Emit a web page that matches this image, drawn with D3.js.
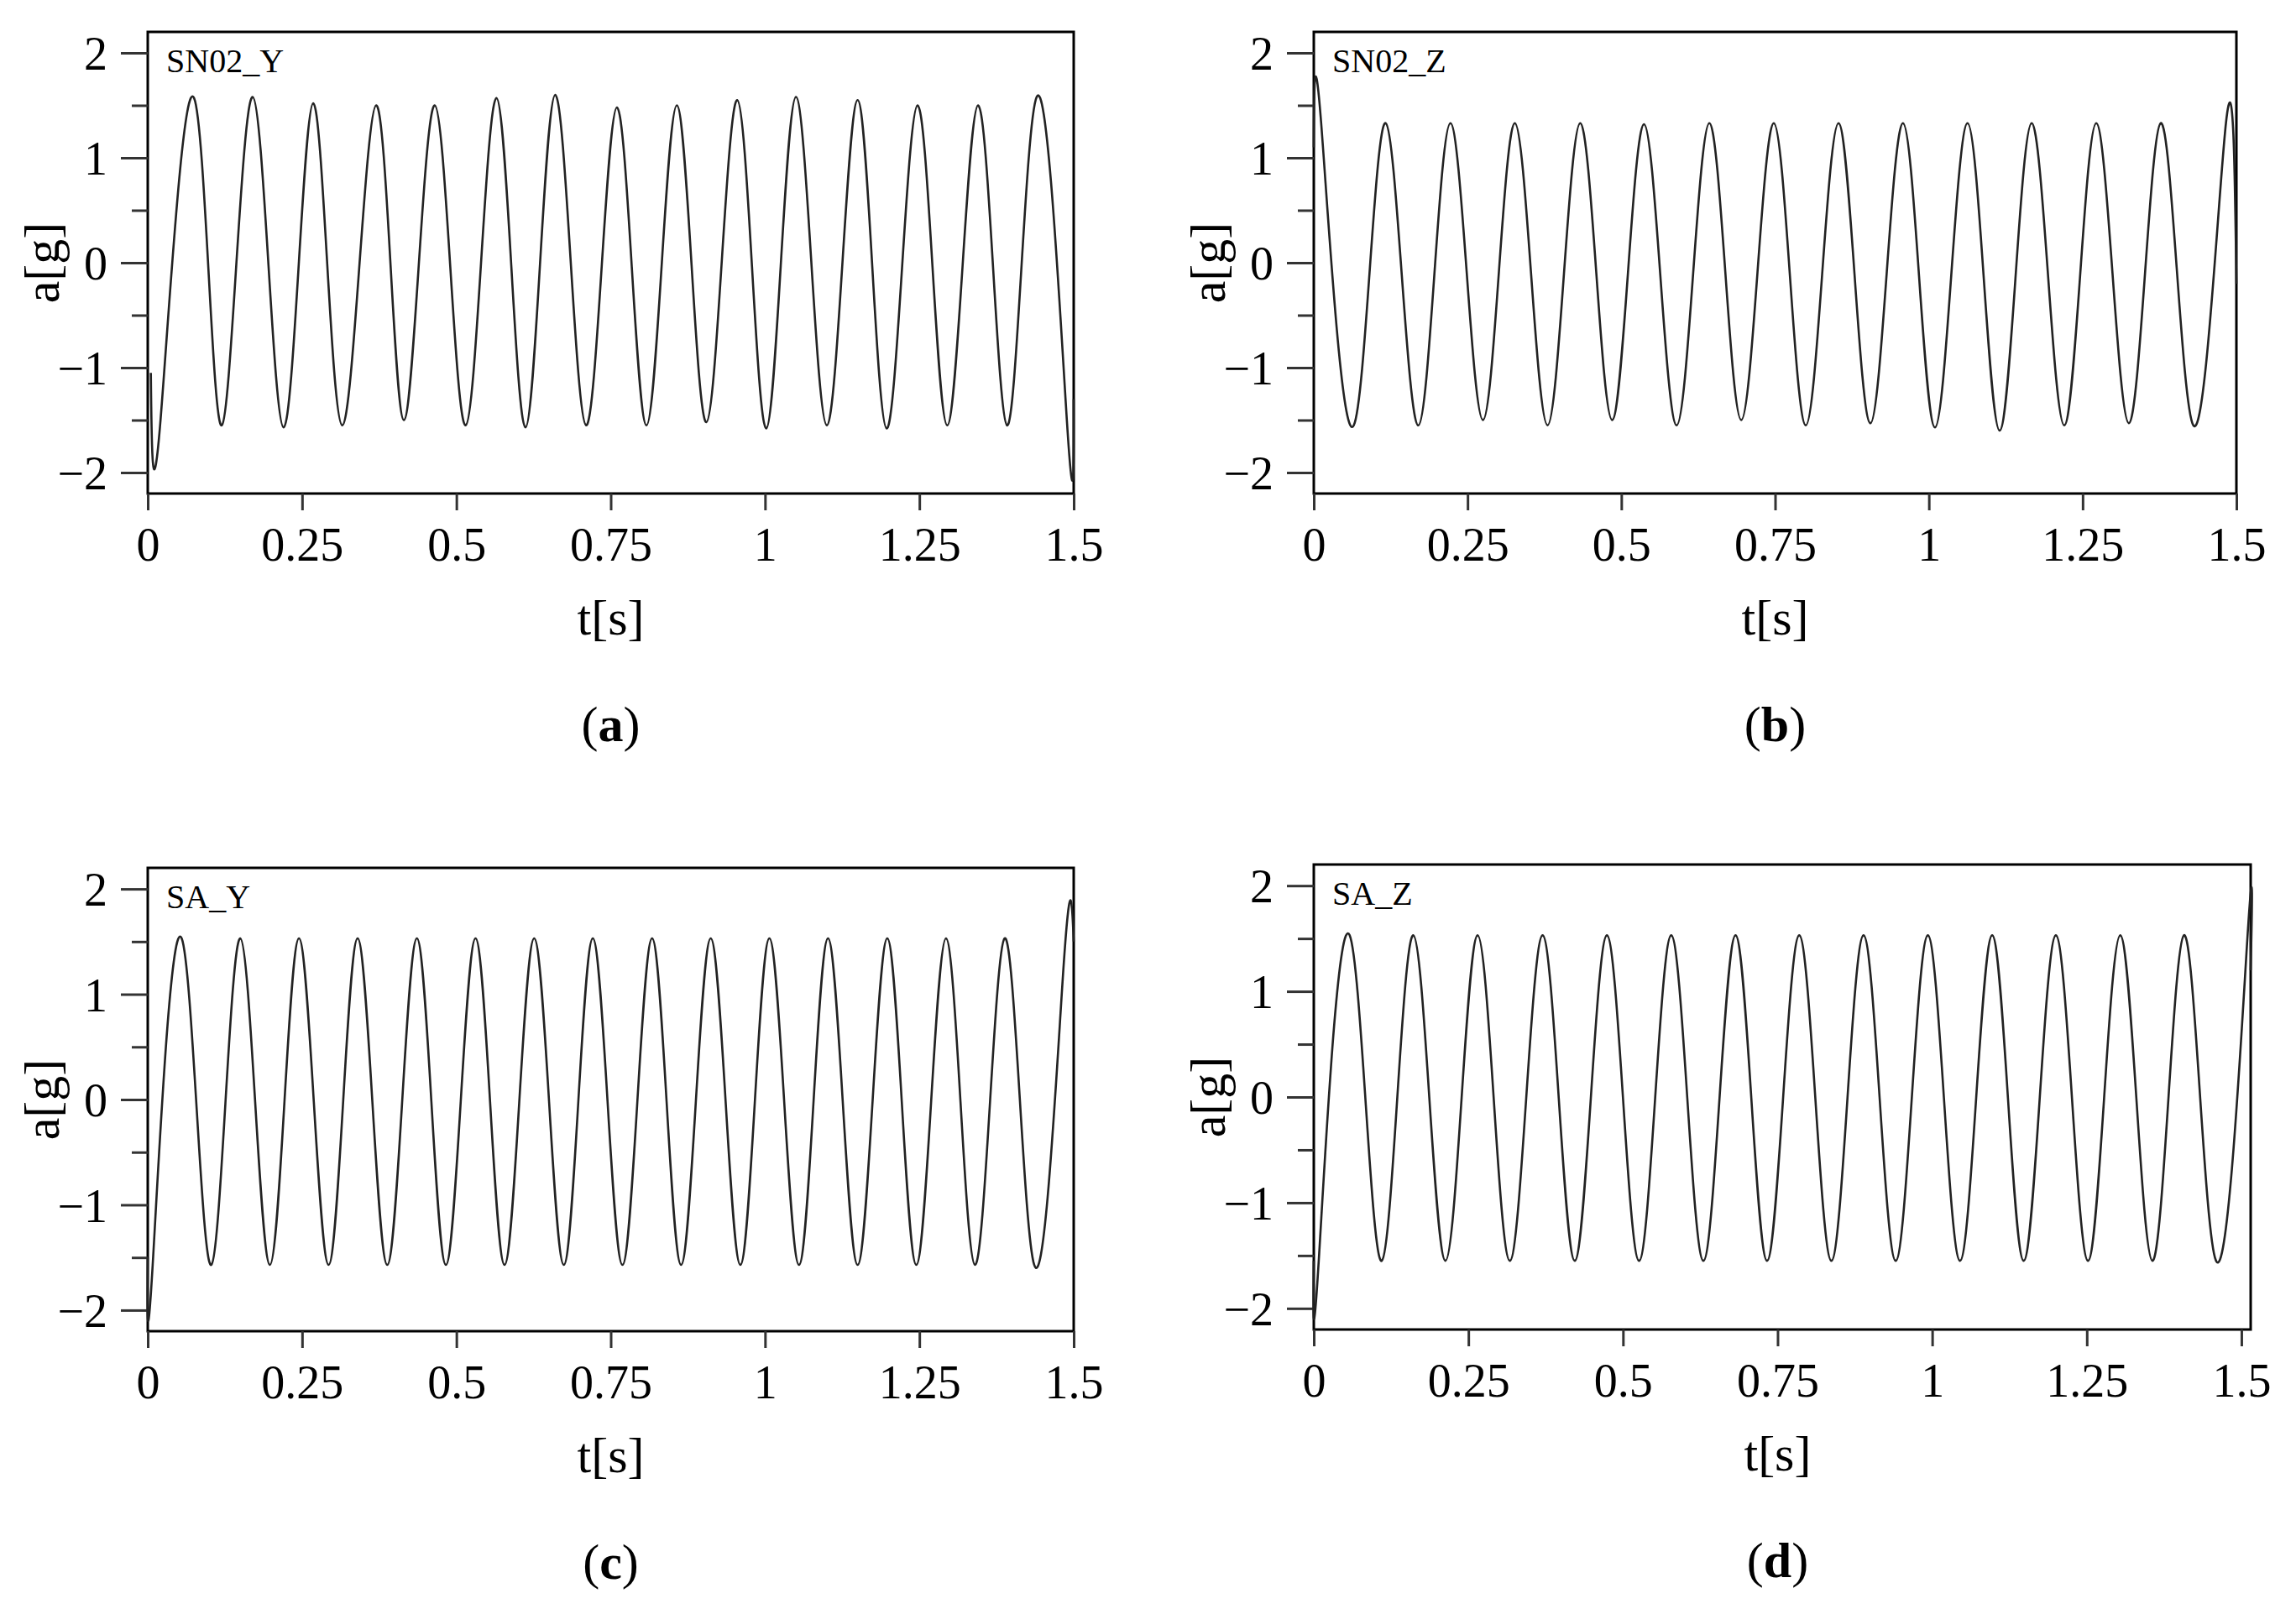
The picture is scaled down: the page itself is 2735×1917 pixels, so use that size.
<!DOCTYPE html>
<html><head><meta charset="utf-8">
<script src="https://cdn.jsdelivr.net/npm/d3@7"></script>
<style>body{margin:0;background:#fff}svg{font-family:"Liberation Serif","Times New Roman",serif}</style>
</head><body><svg id="c" width="2735" height="1917"></svg>
<script>
// extrema: [t (s), a (g)]
const seriesSN02Y = [[0.005,-1.05],[0.02,-1.55],[0.075,1.57],[0.12,-1.55],[0.17,1.58],[0.22,-1.57],[0.268,1.52],[0.315,-1.55],[0.37,1.5],[0.415,-1.5],[0.465,1.5],[0.515,-1.55],[0.565,1.57],[0.612,-1.57],[0.66,1.6],[0.71,-1.55],[0.76,1.48],[0.808,-1.55],[0.857,1.5],[0.905,-1.52],[0.955,1.55],[1.002,-1.58],[1.05,1.58],[1.1,-1.55],[1.15,1.55],[1.197,-1.58],[1.247,1.5],[1.295,-1.55],[1.345,1.5],[1.392,-1.55],[1.44,1.58],[1.49,-1.6],[1.5,-1.3]];
const seriesSN02Z = [[0,1.1],[0.012,1.33],[0.065,-1.55],[0.117,1.33],[0.17,-1.55],[0.222,1.33],[0.275,-1.5],[0.327,1.33],[0.38,-1.55],[0.433,1.33],[0.485,-1.5],[0.537,1.32],[0.59,-1.55],[0.643,1.33],[0.695,-1.5],[0.748,1.33],[0.8,-1.55],[0.853,1.33],[0.905,-1.53],[0.958,1.33],[1.01,-1.57],[1.063,1.33],[1.115,-1.6],[1.167,1.33],[1.22,-1.55],[1.272,1.33],[1.325,-1.53],[1.377,1.33],[1.43,-1.55],[1.483,1.33],[1.5,-0.2]];
const seriesSAY = [[0,-1.5],[0.008,-1.57],[0.055,1.53],[0.103,-1.57],[0.15,1.53],[0.198,-1.57],[0.245,1.53],[0.293,-1.57],[0.34,1.53],[0.388,-1.57],[0.436,1.53],[0.483,-1.57],[0.531,1.53],[0.578,-1.57],[0.626,1.53],[0.674,-1.57],[0.721,1.53],[0.769,-1.57],[0.817,1.53],[0.864,-1.57],[0.912,1.53],[0.96,-1.57],[1.007,1.53],[1.055,-1.57],[1.102,1.53],[1.15,-1.57],[1.198,1.53],[1.245,-1.57],[1.293,1.53],[1.34,-1.57],[1.388,1.53],[1.436,-1.57],[1.484,1.3],[1.5,1.5]];
const seriesSAZ = [[0,-1.55],[0.008,-1.55],[0.058,1.53],[0.11,-1.55],[0.161,1.53],[0.213,-1.55],[0.265,1.53],[0.317,-1.55],[0.37,1.53],[0.422,-1.55],[0.474,1.53],[0.526,-1.55],[0.578,1.53],[0.63,-1.55],[0.682,1.53],[0.733,-1.55],[0.785,1.53],[0.837,-1.55],[0.889,1.53],[0.941,-1.55],[0.993,1.53],[1.045,-1.55],[1.097,1.53],[1.148,-1.55],[1.2,1.53],[1.252,-1.55],[1.304,1.53],[1.356,-1.55],[1.407,1.53],[1.459,-1.55],[1.51,1.53],[1.515,1.2]];
const panelNames = ["SN02_Y","SN02_Z","SA_Y","SA_Z"];
const captions = ["a","b","c","d"];
const xTicks = [0,0.25,0.5,0.75,1,1.25,1.5];
const yTicks = [-2,-1,0,1,2];
const yMinor = [-1.5,-0.5,0.5,1.5];

const svg = d3.select("#c");
const panels = [
  {data:seriesSN02Y,l:176,r:1279,t:38,b:588,xmax:1.5},
  {data:seriesSN02Z,l:1565,r:2664,t:38,b:588,xmax:1.5},
  {data:seriesSAY,l:176,r:1279,t:1034,b:1586,xmax:1.5},
  {data:seriesSAZ,l:1565,r:2681,t:1030,b:1584,xmax:1.515}
];
panels.forEach((p,i)=>{
  const x = d3.scaleLinear().domain([0,p.xmax]).range([p.l,p.r]);
  const y = d3.scaleLinear().domain([-2.2,2.2]).range([p.b,p.t]);
  const g = svg.append("g");
  g.append("rect").attr("x",p.l).attr("y",p.t).attr("width",p.r-p.l).attr("height",p.b-p.t)
    .attr("fill","none").attr("stroke","#000").attr("stroke-width",3);
  const ya = g.append("g").attr("transform",`translate(${p.l},0)`)
    .call(d3.axisLeft(y).tickValues(yTicks).tickSize(32).tickPadding(12).tickFormat(d3.format("d")));
  g.append("g").attr("transform",`translate(${p.l},0)`)
    .call(d3.axisLeft(y).tickValues(yMinor).tickSize(19).tickFormat(""));
  const xa = g.append("g").attr("transform",`translate(0,${p.b})`)
    .call(d3.axisBottom(x).tickValues(xTicks).tickSize(20).tickPadding(18).tickFormat(d=>String(d)));
  g.selectAll(".domain").remove();
  g.selectAll(".tick line").attr("stroke","#333").attr("stroke-width",3);
  g.selectAll(".tick text").attr("font-size",56).attr("fill","#000").attr("font-family","Liberation Serif");
  ya.selectAll(".tick text").attr("dy","0.35em").attr("dx","-4");
  xa.selectAll(".tick text").attr("dy","0.75em");
  g.append("path").datum(p.data).attr("fill","none").attr("stroke","#222").attr("stroke-width",2.6)
    .attr("d",d3.line().x(d=>x(d[0])).y(d=>y(d[1])).curve(d3.curveNatural));
  g.append("text").attr("x",p.l+22).attr("y",p.t+48).attr("font-size",40).text(panelNames[i]);
  const cx=(p.l+Math.min(p.r,x(1.5)))/2;
  g.append("text").attr("x",cx).attr("y",p.b+168).attr("text-anchor","middle").attr("font-size",60).text("t[s]");
  g.append("text").attr("transform",`translate(${p.l-106},${y(0)}) rotate(-90)`).attr("text-anchor","middle")
    .attr("font-size",60).text("a[g]");
  const c=g.append("text").attr("x",cx).attr("y",p.b+295).attr("text-anchor","middle").attr("font-size",60)
    .attr("font-family","Liberation Serif");
  c.append("tspan").text("(");c.append("tspan").attr("font-weight","bold").text(captions[i]);c.append("tspan").text(")");
});
</script></body></html>
